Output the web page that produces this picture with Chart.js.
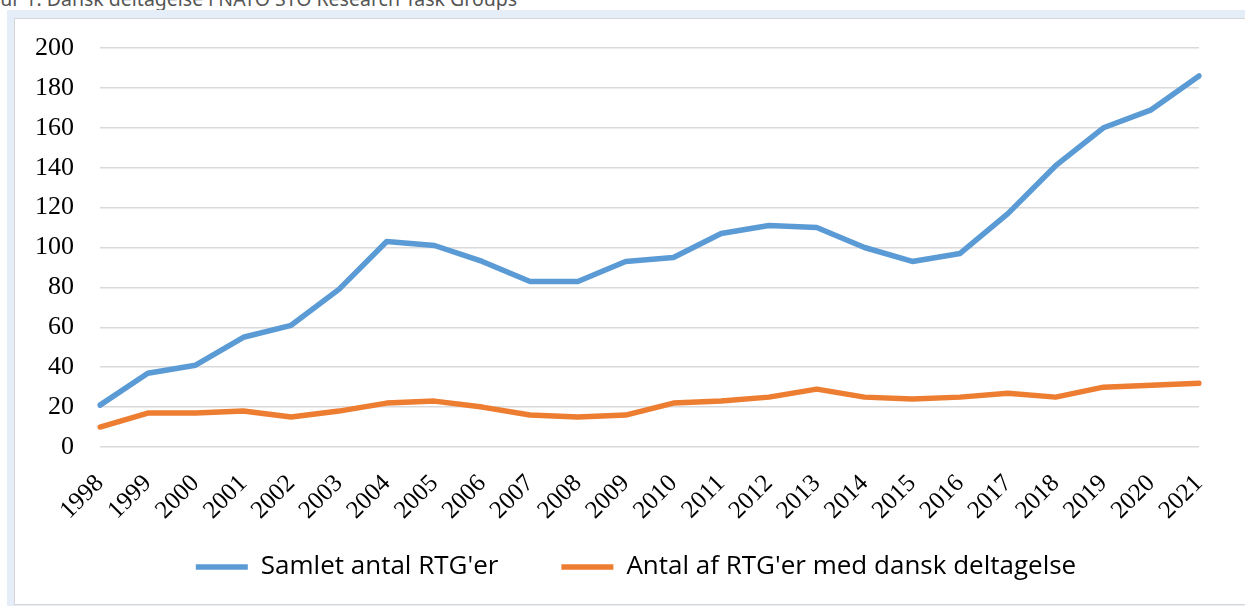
<!DOCTYPE html>
<html>
<head>
<meta charset="utf-8">
<script src="https://cdn.jsdelivr.net/npm/chart.js@4.4.1/dist/chart.umd.min.js"></script>
<style>
  html, body { margin: 0; padding: 0; background: #fff; width: 1245px; height: 606px; overflow: hidden; }
  .caption { position: absolute; left: -27px; top: -15px; font: 19.5px "Noto Sans", sans-serif; color: #555; white-space: nowrap; }
  .strip { position: absolute; left: 7px; top: 10px; width: 1300px; height: 700px; background: #e4edf8; }
  .frame { position: absolute; left: 14px; top: 18px; width: 1300px; height: 585px; background: #fff; border: 1px solid #d6d6d6; overflow: hidden; }
  canvas { position: absolute; left: 0; top: 0; }
</style>
</head>
<body>
<div class="caption">Figur 1: Dansk deltagelse i NATO STO Research Task Groups</div>
<div class="strip"></div>
<div class="frame"><canvas id="rtgChart" width="1230" height="630"></canvas></div>
<script>
// data
const years = ['1998','1999','2000','2001','2002','2003','2004','2005','2006','2007','2008','2009',
               '2010','2011','2012','2013','2014','2015','2016','2017','2018','2019','2020','2021'];
const samlet = [21, 37, 41, 55, 61, 79, 103, 101, 93, 83, 83, 93, 95, 107, 111, 110, 100, 93, 97, 117, 141, 160, 169, 186];
const dansk = [10, 17, 17, 18, 15, 18, 22, 23, 20, 16, 15, 16, 22, 23, 25, 29, 25, 24, 25, 27, 25, 30, 31, 32];
const seriesNames = ["Samlet antal RTG'er", "Antal af RTG'er med dansk deltagelse"];

const serif = '"Liberation Serif", "Times New Roman", serif';

// the legend sits closer to the axis than chart.js would put it, so move the box after layout
const legendPlace = {
    id: 'legendPlace',
    afterLayout(chart) {
        const lg = chart.legend;
        const h = lg.height;
        lg.left = 58;
        lg.right = 1184;
        lg.width = lg.right - lg.left;
        lg.top = 472;
        lg.bottom = lg.top + h;
    }
};

new Chart(document.getElementById('rtgChart').getContext('2d'), {
    type: 'line',
    data: {
        labels: years,
        datasets: [{
            label: seriesNames[0],
            data: samlet,
            borderColor: '#5b9bd5',
            backgroundColor: '#5b9bd5',
            borderWidth: 5.5,
            borderCapStyle: 'round',
            borderJoinStyle: 'round',
            pointRadius: 0,
            tension: 0
        }, {
            label: seriesNames[1],
            data: dansk,
            borderColor: '#ed7d31',
            backgroundColor: '#ed7d31',
            borderWidth: 5.5,
            borderCapStyle: 'round',
            borderJoinStyle: 'round',
            pointRadius: 0,
            tension: 0
        }]
    },
    options: {
        responsive: false,
        animation: false,
        layout: { padding: { top: 29, right: 46, left: 0, bottom: 0 } },
        scales: {
            x: {
                offset: false,
                grid: { display: false, drawTicks: false },
                border: { display: false },
                ticks: {
                    color: '#000',
                    font: { family: serif, size: 25 },
                    maxRotation: 45,
                    minRotation: 45,
                    autoSkip: false,
                    padding: 22
                },
                afterFit: function(scale) { scale.height = 103; }
            },
            y: {
                min: 0,
                max: 200,
                border: { display: false },
                grid: { color: '#d9d9d9', lineWidth: 1.5, drawTicks: true, tickLength: 26, tickColor: 'rgba(0,0,0,0)' },
                ticks: {
                    stepSize: 20,
                    color: '#000',
                    font: { family: serif, size: 26 },
                    padding: 0
                },
                afterFit: function(scale) { scale.width = 85; }
            }
        },
        plugins: {
            legend: {
                position: 'bottom',
                labels: {
                    usePointStyle: true,
                    pointStyle: 'line',
                    pointStyleWidth: 52,
                    color: '#000',
                    font: { family: '"Open Sans", "Noto Sans", sans-serif', size: 26 },
                    padding: 63
                }
            },
            tooltip: { enabled: false }
        }
    },
    plugins: [legendPlace]
});
</script>
</body>
</html>
